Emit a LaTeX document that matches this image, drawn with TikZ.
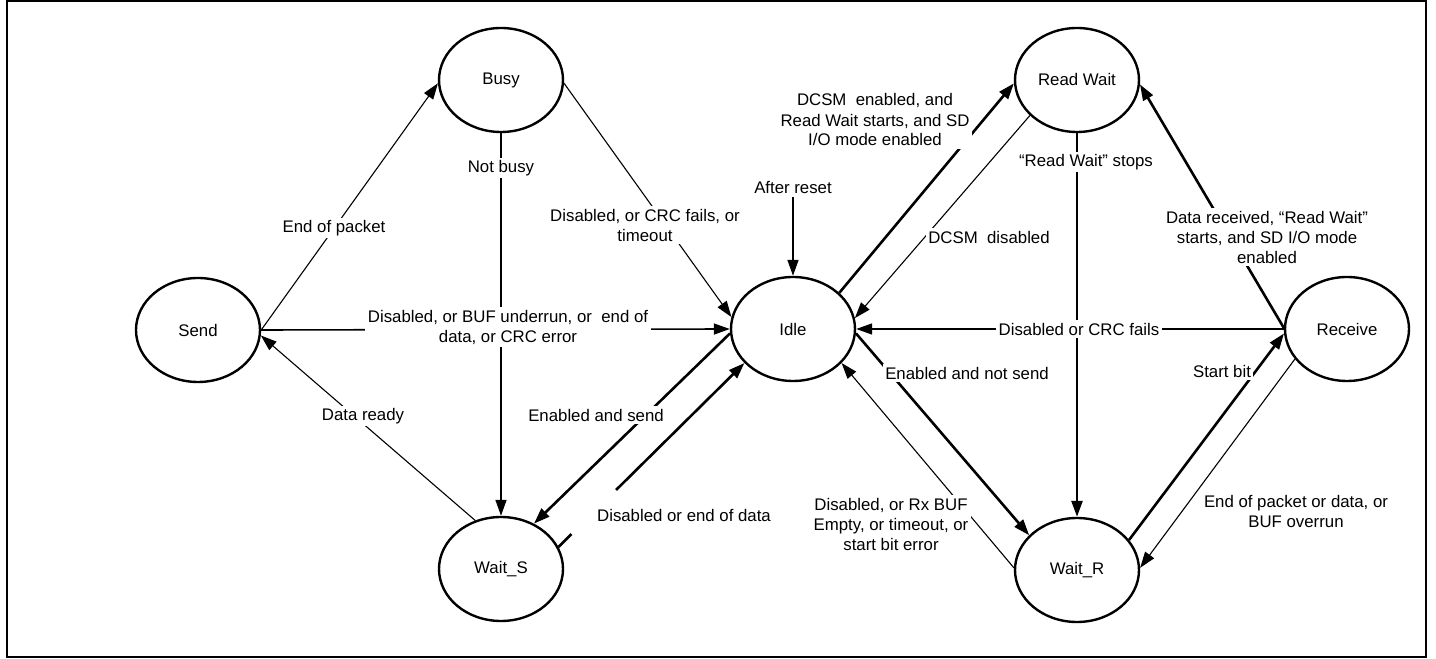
\documentclass[tikz,border=0pt]{standalone}
\usepackage{fontspec}
\setmainfont{Liberation Sans}
\usetikzlibrary{arrows.meta,calc,shapes.geometric}
\newcommand{\lblfont}{\fontsize{16.8pt}{20pt}\selectfont}
\begin{document}
\begin{tikzpicture}[x=1pt,y=1pt,
  state/.style={ellipse, draw, line width=2.4pt, minimum width=124pt,
    minimum height=104pt, inner sep=0pt, font=\lblfont},
  lbl/.style={fill=white, inner sep=2.5pt, align=center, font=\lblfont},
  wthin/.style={line width=1.1pt},
  wmid/.style={line width=1.6pt},
  wthick/.style={line width=2.6pt},
  tip/.style={-{Triangle[length=16pt,width=11pt]}}
]
\useasboundingbox (0,0) rectangle (1436,659);
% outer frame
\draw[line width=2pt] (6.5,1.5) rectangle (1426,657.5);

% states
\node[state] (busy)  at (501,579)  {Busy};
\node[state] (send)  at (198,329)  {Send};
\node[state] (waits) at (501,90)   {Wait\_S};
\node[state] (idle)  at (793,330)  {Idle};
\node[state] (rw)    at (1077,579) {Read Wait};
\node[state] (recv)  at (1347,330) {Receive};
\node[state] (waitr) at (1077,89)  {Wait\_R};
\node[lbl, fill=none] (reset) at (793,471) {After reset};

% transmit side
\draw[wthin,tip]  (send.east) -- (busy.183);
\draw[wmid,tip]   (busy.south) -- (waits.north);
\draw[wthin,tip]  (busy.357) -- (idle.169);
\draw[wmid,tip]   (send.east) -- (idle.west);
\draw[wthin,tip]  (waits.118) -- (send.355);
\draw[wthick,tip] (idle.184) -- (waits.54);
\draw[wthick] (waits.21) -- ($(waits.21)!0.07!(idle.215)$);
\draw[wthick,tip] ($(waits.21)!0.31!(idle.215)$) -- (idle.215);

% receive side
\draw[wmid,tip]   (reset) -- (idle.north);
\draw[wthick,tip] (idle.38) -- (rw.183);
\draw[wthin,tip]  (rw.217) -- (idle.10);
\draw[wthick,tip] (rw.south) -- (waitr.north);
\draw[wmid,tip]   (recv.west) -- (idle.east);
\draw[wthick,tip] (recv.179) -- (rw.356);
\draw[wthick,tip] (waitr.30) -- (recv.184);
\draw[wthin,tip]  (recv.210) -- (waitr.2);
\draw[wthin,tip]  (waitr.178) -- (idle.325);
\draw[wthick,tip] (idle.356) -- (waitr.144);

% transition labels
\node[lbl] (l1)  at (334,431) {End of packet};
\node[lbl] (l2)  at (501,491) {Not busy};
\node[lbl] (l3)  at (645,434) {Disabled, or CRC fails, or\\timeout};
\node[lbl] (l4)  at (508,332) {Disabled, or BUF underrun, or\ \ end of\\data, or CRC error};
\node[lbl] (l5)  at (363,243) {Data ready};
\node[lbl] (l6)  at (596,244) {Enabled and send};
\node[lbl] (l7)  at (684,144) {Disabled or end of data};
\node[lbl] (l8)  at (875,539) {DCSM\ \ enabled, and\\Read Wait starts, and SD\\I/O mode enabled};
\node[lbl] (l9)  at (989,422) {DCSM\ \ disabled};
\node[lbl] (l10) at (1086,497) {“Read Wait” stops};
\node[lbl] (l11) at (1079,330) {Disabled or CRC fails};
\node[lbl] (l12) at (1267,422) {Data received, “Read Wait”\\starts, and SD I/O mode\\enabled};
\node[lbl] (l13) at (1222,288) {Start bit};
\node[lbl] (l14) at (1296,148) {End of packet or data, or\\BUF overrun};
\node[lbl] (l15) at (891,135) {Disabled, or Rx BUF\\Empty, or timeout, or\\start bit error};
\node[lbl] (l16) at (967,286) {Enabled and not send};
\end{tikzpicture}
\end{document}
